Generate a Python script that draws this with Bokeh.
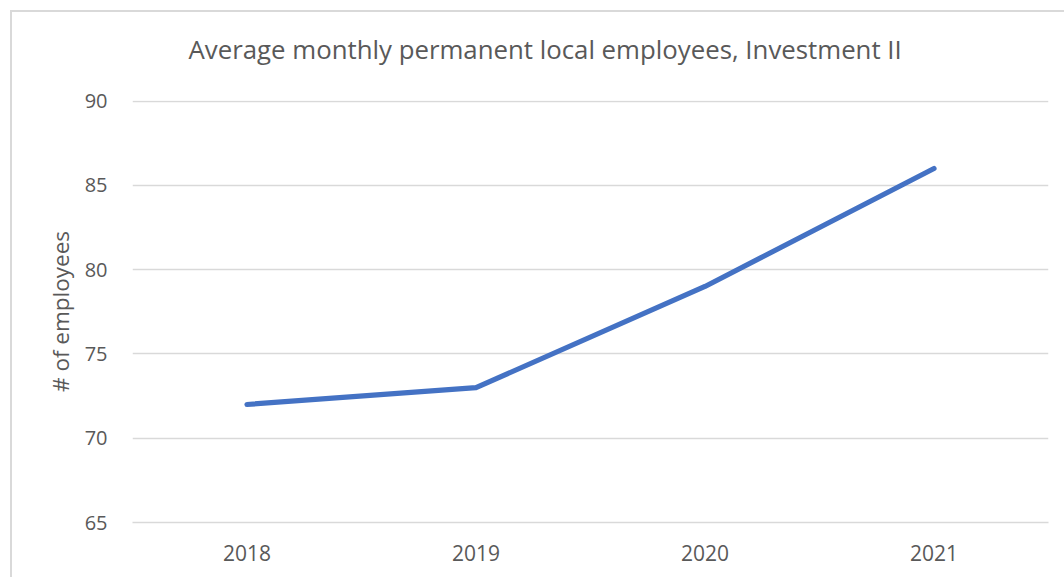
from bokeh.plotting import figure
from bokeh.models import FixedTicker, FactorRange, Range1d, Title
from bokeh.layouts import column
from bokeh.embed import file_html
from bokeh.resources import INLINE

years = ["2018", "2019", "2020", "2021"]
employees = [72, 73, 79, 86]
y_ticks = [65, 70, 75, 80, 85, 90]
title_text = "Average monthly permanent local employees, Investment II"
y_label = "# of employees"

GRAY = "#595959"
GRID = "#d9d9d9"

p = figure(width=1052, height=565, x_range=FactorRange(*years, range_padding=0),
           y_range=Range1d(65, 90.03), output_backend="svg", toolbar_location=None,
           min_border_left=120, min_border_right=16, min_border_top=88, min_border_bottom=55,
           title=title_text)
p.outline_line_color = None
p.background_fill_color = "white"
p.border_fill_color = "white"

p.title.align = "left"
p.title.offset = 56
p.title.text_font = "Open Sans"
p.title.text_font_size = "25.8px"
p.title.text_font_style = "normal"
p.title.text_color = GRAY
p.title.standoff = 0

# empty spacer between the title and the plotting area
p.add_layout(Title(text=" ", text_font_size="1px", standoff=31), "above")

p.line(years, employees, line_color="#4472C4", line_width=5.2, line_cap="round", line_join="round")

p.xgrid.grid_line_color = None
p.ygrid.grid_line_color = GRID
p.ygrid.grid_line_width = 1.3
p.yaxis.ticker = FixedTicker(ticks=y_ticks)

p.yaxis.axis_line_color = None
p.yaxis.major_tick_line_color = None
p.yaxis.minor_tick_line_color = None
p.yaxis.major_label_text_font = "Open Sans"
p.yaxis.major_label_text_font_size = "20px"
p.yaxis.major_label_text_color = GRAY
p.yaxis.major_label_standoff = 19
p.yaxis.axis_label = y_label
p.yaxis.axis_label_text_font = "Open Sans"
p.yaxis.axis_label_text_font_size = "22.5px"
p.yaxis.axis_label_text_font_style = "normal"
p.yaxis.axis_label_text_color = GRAY
p.yaxis.axis_label_standoff = 6

p.xaxis.axis_line_color = GRID
p.xaxis.axis_line_width = 1.5
p.xaxis.major_tick_line_color = None
p.xaxis.minor_tick_line_color = None
p.xaxis.major_label_text_font = "Open Sans"
p.xaxis.major_label_text_font_size = "21px"
p.xaxis.major_label_text_color = GRAY
p.xaxis.major_label_standoff = 16

layout = column(p, margin=(10, 0, 0, 10),
                styles={"border-left": "2px solid #d9d9d9", "border-top": "2px solid #d9d9d9"})

open("out.html", "w").write(file_html(layout, INLINE))
